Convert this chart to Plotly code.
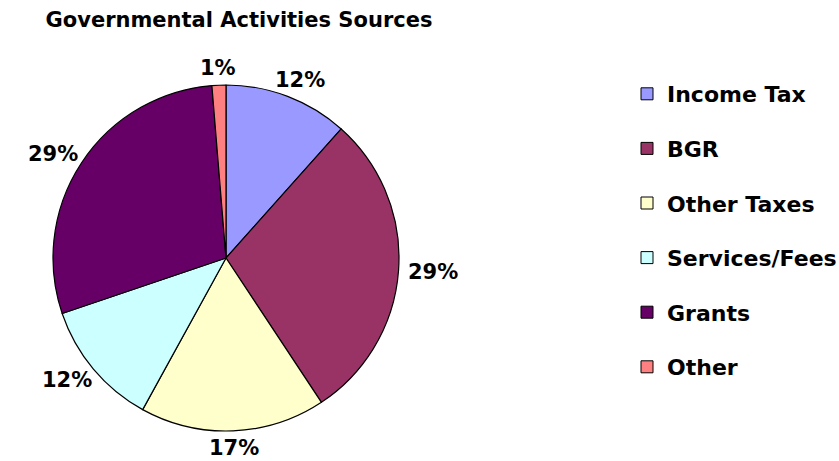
import math
import plotly.graph_objects as go

categories = ["Income Tax", "BGR", "Other Taxes", "Services/Fees", "Grants", "Other"]
values = [11.6, 29.1, 17.3, 11.8, 28.9, 1.3]
colors = ["#9999FF", "#993366", "#FFFFCC", "#CCFFFF", "#660066", "#FF8080"]
title_text = "Governmental Activities Sources"

W, H = 839, 461
FONT = "DejaVu Sans"

# pie geometry (pixels)
cx, cy, R = 226, 258, 173

fig = go.Figure()
fig.add_trace(go.Pie(
    labels=categories, values=values, sort=False, direction="clockwise", rotation=0,
    marker=dict(colors=colors, line=dict(color="black", width=1.2)),
    textinfo="none", hoverinfo="label+percent", showlegend=False,
    domain=dict(x=[(cx - R) / W, (cx + R) / W], y=[1 - (cy + R) / H, 1 - (cy - R) / H]),
))

# legend entries via dummy traces so the spacing can be controlled
for lab, col in zip(categories, colors):
    fig.add_trace(go.Scatter(
        x=[None], y=[None], mode="markers", name=lab, legendgroup=lab,
        marker=dict(symbol="square", size=12, color=col, line=dict(color="black", width=1)),
    ))

# percentage labels placed outside each slice, from the data
total = sum(values)
cum = 0.0
annotations = []
gap = 9
for v in values:
    mid = (cum + v / 2) / total * 2 * math.pi
    cum += v
    s, c = math.sin(mid), math.cos(mid)
    txt = f"{round(v / total * 100)}%"
    hw = 8.5 * len(txt)
    hh = 8
    px = cx + (R + gap) * s + hw * s
    py = cy - (R + gap) * c - hh * c
    annotations.append(dict(
        x=px / W, y=1 - py / H, xref="paper", yref="paper", text=txt, showarrow=False,
        xanchor="center", yanchor="middle",
        font=dict(family=FONT, size=21, color="black", weight="bold"),
    ))

fig.update_layout(
    width=W, height=H, margin=dict(l=0, r=0, t=0, b=0, autoexpand=False),
    paper_bgcolor="white", plot_bgcolor="white",
    title=dict(text=title_text, x=239 / W, xanchor="center", y=1 - 20 / H, yanchor="middle",
               font=dict(family=FONT, size=21, color="black", weight="bold")),
    xaxis=dict(visible=False), yaxis=dict(visible=False),
    legend=dict(x=627 / W, y=1 - 73 / H, xanchor="left", yanchor="top",
                font=dict(family=FONT, size=22, color="black", weight="bold"),
                tracegroupgap=23, itemclick=False, bgcolor="rgba(0,0,0,0)"),
    annotations=annotations,
)

fig.write_html("out.html")
